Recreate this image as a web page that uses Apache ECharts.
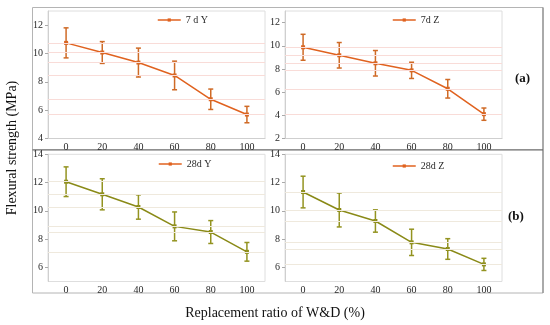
<!DOCTYPE html>
<html>
<head>
<meta charset="utf-8">
<script src="https://cdn.jsdelivr.net/npm/echarts@6/dist/echarts.min.js"></script>
<style>html,body{margin:0;padding:0;background:#fff}#c{width:550px;height:325px}</style>
</head>
<body>
<div id="c"></div>
<script>
var categories = ['0', '20', '40', '60', '80', '100'];
var names = ['7 d Y', '7d Z', '28d Y', '28d Z'];
var v7Y = [10.75, 10.07, 9.36, 8.45, 6.77, 5.69];
var e7Y = [1.06, 0.77, 1.02, 1.01, 0.72, 0.58];
var v7Z = [9.87, 9.18, 8.49, 7.88, 6.29, 4.10];
var e7Z = [1.12, 1.10, 1.10, 0.70, 0.80, 0.53];
var v28Y = [12.06, 11.17, 10.27, 8.90, 8.50, 7.10];
var e28Y = [1.05, 1.10, 0.86, 1.02, 0.81, 0.66];
var v28Z = [11.33, 10.06, 9.28, 7.77, 7.30, 6.21];
var e28Z = [1.12, 1.20, 0.79, 0.93, 0.73, 0.43];
var yTicksTop = [[4, 6, 8, 10, 12], [2, 4, 6, 8, 10, 12]];
var yTicksBottom = [6, 8, 10, 12, 14];
var yRanges = [[4, 13], [2, 13], [5, 14], [5, 14]];

var values = [v7Y, v7Z, v28Y, v28Z];
var errors = [e7Y, e7Z, e28Y, e28Z];
var yTicks = [yTicksTop[0], yTicksTop[1], yTicksBottom, yTicksBottom];

var ORANGE = '#e0621f', ORANGE_ERR = '#cf6a26';
var OLIVE = '#8a8a17', OLIVE_ERR = '#939320';
var lineColors = [ORANGE, ORANGE, OLIVE, OLIVE];
var errColors = [ORANGE_ERR, ORANGE_ERR, OLIVE_ERR, OLIVE_ERR];
var refColors = ['#f9dcd8', '#f9dcd8', '#efe9dd', '#efe9dd'];
var FONT = 'Liberation Serif';

var grids = [
  {left: 48, top: 11, width: 217, height: 127.5},
  {left: 285, top: 11, width: 217, height: 127.5},
  {left: 48, top: 154.3, width: 217, height: 127.2},
  {left: 285, top: 154.3, width: 217, height: 127.2}
];
grids.forEach(function (g) { g.show = true; g.borderColor = '#dedede'; g.borderWidth = 1; g.backgroundColor = '#fff'; });

var xAxes = [], yAxes = [], series = [], legends = [];
var legendPos = [[152, 10], [387, 10], [153, 154], [387, 156]];
for (var i = 0; i < 4; i++) {
  xAxes.push({
    type: 'category', gridIndex: i, data: categories, boundaryGap: true,
    axisLine: {show: i < 2, lineStyle: {color: '#cfcfcf'}},
    axisTick: {show: false},
    axisLabel: {color: '#2a2a2a', fontFamily: FONT, fontSize: 10, margin: 4}
  });
  yAxes.push({
    type: 'value', gridIndex: i, min: yRanges[i][0], max: yRanges[i][1],
    axisLine: {show: true, lineStyle: {color: '#cfcfcf'}},
    axisTick: {show: true, length: 3, lineStyle: {color: '#aaa'}, customValues: yTicks[i]},
    axisLabel: {color: '#2a2a2a', fontFamily: FONT, fontSize: 10, margin: 5, customValues: yTicks[i]},
    splitLine: {show: false}
  });
  (function (idx) {
    series.push({
      name: names[idx], type: 'line', xAxisIndex: idx, yAxisIndex: idx,
      data: values[idx], symbol: 'rect', symbolSize: 4,
      lineStyle: {color: lineColors[idx], width: 1.5},
      itemStyle: {color: lineColors[idx]},
      z: 3,
      markLine: {
        silent: true, symbol: 'none', label: {show: false},
        lineStyle: {color: refColors[idx], type: 'solid', width: 1},
        emphasis: {disabled: true},
        data: values[idx].map(function (v) { return {yAxis: v}; })
      }
    });
    series.push({
      type: 'custom', xAxisIndex: idx, yAxisIndex: idx, z: 4,
      data: values[idx].map(function (v, k) { return [k, v - errors[idx][k], v + errors[idx][k]]; }),
      encode: {x: 0, y: [1, 2]},
      renderItem: function (params, api) {
        var lo = api.coord([api.value(0), api.value(1)]);
        var hi = api.coord([api.value(0), api.value(2)]);
        var hw = 2.5;
        var st = {stroke: errColors[idx], lineWidth: 1.5};
        return {type: 'group', children: [
          {type: 'line', shape: {x1: lo[0], y1: lo[1], x2: hi[0], y2: hi[1]}, style: st},
          {type: 'line', shape: {x1: lo[0] - hw, y1: lo[1], x2: lo[0] + hw, y2: lo[1]}, style: st},
          {type: 'line', shape: {x1: hi[0] - hw, y1: hi[1], x2: hi[0] + hw, y2: hi[1]}, style: st}
        ]};
      }
    });
  })(i);
  legends.push({
    left: legendPos[i][0], top: legendPos[i][1], itemWidth: 23, itemHeight: 4,
    selectedMode: false,
    textStyle: {fontFamily: FONT, fontSize: 10, color: '#2a2a2a'},
    data: [{name: names[i], itemStyle: {color: ORANGE}, lineStyle: {color: ORANGE, width: 1.5}}]
  });
}

var option = {
  backgroundColor: '#fff',
  animation: false,
  grid: grids, xAxis: xAxes, yAxis: yAxes, series: series, legend: legends,
  graphic: [
    {type: 'rect', shape: {x: 32.5, y: 7.5, width: 510.5, height: 285.5}, style: {fill: 'none', stroke: '#b4b4b4', lineWidth: 1}, z: 0, silent: true},
    {type: 'line', shape: {x1: 543, y1: 7.5, x2: 543, y2: 293}, style: {stroke: '#8a8a8a', lineWidth: 1.2}, silent: true},
    {type: 'line', shape: {x1: 32.5, y1: 149.8, x2: 543, y2: 149.8}, style: {stroke: '#6a6a6a', lineWidth: 1.2}, silent: true},
    {type: 'text', left: 515, top: 72, style: {text: '(a)', font: 'bold 13px "Liberation Serif"', fill: '#111'}},
    {type: 'text', left: 508, top: 210, style: {text: '(b)', font: 'bold 13px "Liberation Serif"', fill: '#111'}},
    {type: 'text', x: 12, y: 148, rotation: Math.PI / 2, style: {text: 'Flexural strength (MPa)', font: '14px "Liberation Serif"', fill: '#111', align: 'center', verticalAlign: 'middle'}},
    {type: 'text', x: 275, y: 313, style: {text: 'Replacement ratio of W&D (%)', font: '14px "Liberation Serif"', fill: '#111', align: 'center', verticalAlign: 'middle'}}
  ]
};
var chart = echarts.init(document.getElementById('c'));
chart.setOption(option);
</script>
</body>
</html>
